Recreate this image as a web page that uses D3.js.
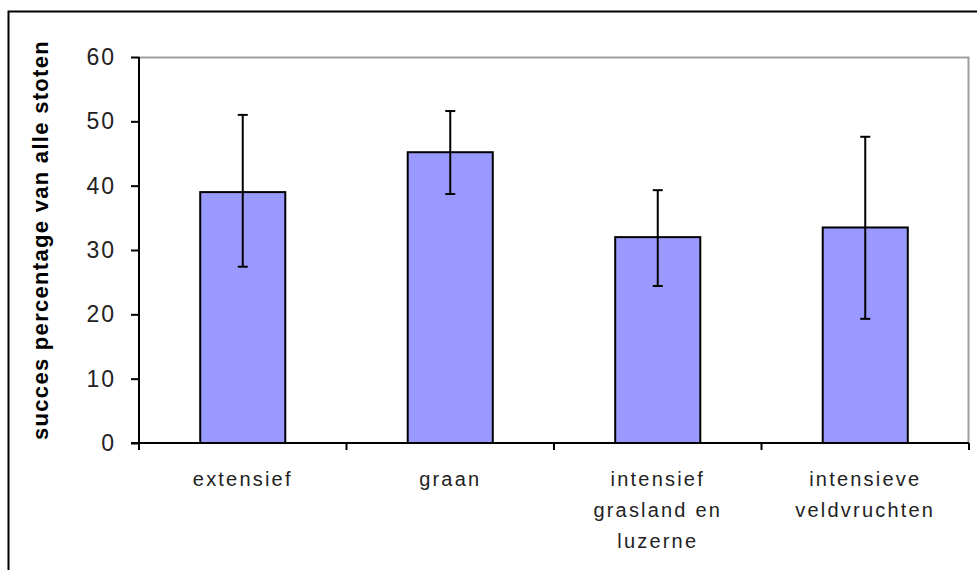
<!DOCTYPE html>
<html>
<head>
<meta charset="utf-8">
<script src="https://cdn.jsdelivr.net/npm/d3@7"></script>
<style>
  body { margin: 0; background: #fff; }
  text { font-family: "Liberation Sans", Arial, sans-serif; }
</style>
</head>
<body>
<svg></svg>
<script>
const categories = [['extensief'], ['graan'], ['intensief', 'grasland en', 'luzerne'], ['intensieve', 'veldvruchten']];
const means = [39.0, 45.2, 32.0, 33.5];
const errLow = [27.4, 38.7, 24.4, 19.3];
const errHigh = [51.0, 51.6, 39.3, 47.6];
const yTicks = [0, 10, 20, 30, 40, 50, 60];

const svg = d3.select('svg')
	.attr('width', 977)
	.attr('height', 570);

const margin = { top: 57, right: 8, bottom: 127, left: 139 },
	innerWidth = 977 - margin.left - margin.right,
	innerHeight = 570 - margin.top - margin.bottom;

// outer frame
svg.append('path')
	.attr('d', 'M8.5,570 V11.5 H977')
	.attr('fill', 'none')
	.attr('stroke', '#000')
	.attr('stroke-width', 2);

const data = categories.map((c, i) => ({ key: i, label: c, value: means[i], lo: errLow[i], hi: errHigh[i] }));

const xScale = d3.scaleBand()
	.domain(data.map(d => d.key))
	.range([0, innerWidth])
	.paddingInner(0.59)
	.paddingOuter(0.295);

const yScale = d3.scaleLinear()
	.domain([0, 60])
	.range([innerHeight, 0]);

const g = svg.append('g')
	.attr('transform', `translate(${margin.left}, ${margin.top})`);

// plot area top/right border
g.append('path')
	.attr('d', `M0,0.5 H${innerWidth - 0.5} V${innerHeight}`)
	.attr('fill', 'none')
	.attr('stroke', '#a0a0a0')
	.attr('stroke-width', 2);

// bars
g.selectAll('rect.bar')
	.data(data)
	.enter().append('rect')
	.attr('class', 'bar')
	.attr('x', d => xScale(d.key))
	.attr('width', xScale.bandwidth())
	.attr('y', d => yScale(d.value))
	.attr('height', d => innerHeight - yScale(d.value))
	.attr('fill', '#9999ff')
	.attr('stroke', '#000')
	.attr('stroke-width', 2);

// error bars
const eb = g.selectAll('g.err')
	.data(data)
	.enter().append('g')
	.attr('class', 'err')
	.attr('transform', d => `translate(${xScale(d.key) + xScale.bandwidth() / 2}, 0)`);

eb.append('line')
	.attr('y1', d => yScale(d.lo))
	.attr('y2', d => yScale(d.hi))
	.attr('stroke', '#000')
	.attr('stroke-width', 2);

eb.append('line')
	.attr('x1', -5).attr('x2', 5)
	.attr('y1', d => yScale(d.hi)).attr('y2', d => yScale(d.hi))
	.attr('stroke', '#000').attr('stroke-width', 2);

eb.append('line')
	.attr('x1', -5).attr('x2', 5)
	.attr('y1', d => yScale(d.lo)).attr('y2', d => yScale(d.lo))
	.attr('stroke', '#000').attr('stroke-width', 2);

// y axis
const yAxis = d3.axisLeft(yScale)
	.tickValues(yTicks)
	.tickSize(8)
	.tickPadding(15);

const yAxisG = g.append('g').call(yAxis);
yAxisG.select('.domain').attr('stroke-width', 2).attr('d', `M0,${innerHeight}V0`);
yAxisG.selectAll('.tick line').attr('stroke-width', 2);
yAxisG.selectAll('.tick text')
	.attr('font-size', 23)
	.attr('fill', '#222')
	.attr('letter-spacing', 2)
	.attr('font-family', '"Liberation Sans", Arial, sans-serif');

yAxisG.append('text')
	.attr('fill', 'black')
	.attr('transform', `translate(-91, ${innerHeight / 2 - 10}) rotate(-90)`)
	.attr('text-anchor', 'middle')
	.attr('font-size', 22)
	.attr('font-weight', 'bold')
	.attr('letter-spacing', 1.3)
	.text('succes percentage van alle stoten');

// x axis with boundary ticks
const xAxisG = g.append('g')
	.attr('transform', `translate(0, ${innerHeight})`);

xAxisG.append('line')
	.attr('x1', -8).attr('x2', innerWidth)
	.attr('stroke', '#000').attr('stroke-width', 2);

const step = xScale.step();
xAxisG.selectAll('line.tk')
	.data(d3.range(data.length + 1))
	.enter().append('line')
	.attr('class', 'tk')
	.attr('x1', i => i * step)
	.attr('x2', i => i * step)
	.attr('y1', 0).attr('y2', 7)
	.attr('stroke', '#000').attr('stroke-width', 2);

const labels = xAxisG.selectAll('text.lbl')
	.data(data)
	.enter().append('text')
	.attr('class', 'lbl')
	.attr('x', d => xScale(d.key) + xScale.bandwidth() / 2)
	.attr('text-anchor', 'middle')
	.attr('font-size', 20)
	.attr('fill', '#222')
	.attr('letter-spacing', 2.2);

labels.selectAll('tspan')
	.data(d => d.label)
	.enter().append('tspan')
	.attr('x', function () { return d3.select(this.parentNode).attr('x'); })
	.attr('y', (d, i) => 43 + i * 31)
	.text(d => d);
</script>
</body>
</html>
